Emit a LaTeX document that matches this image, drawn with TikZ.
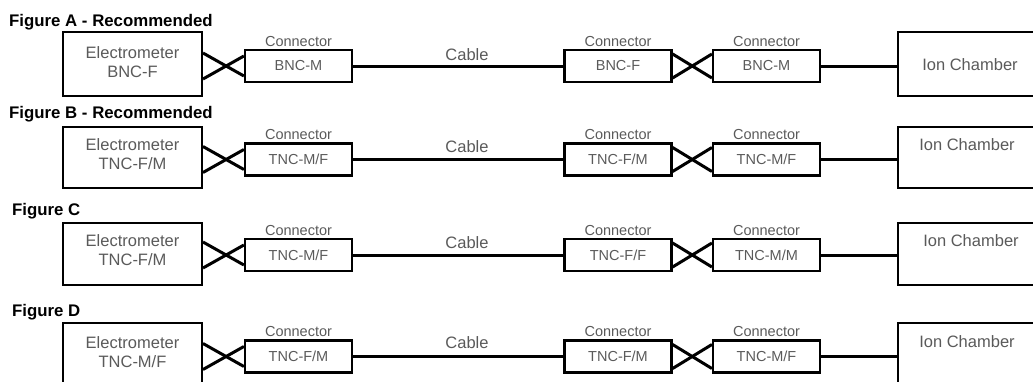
\documentclass[tikz,border=0pt]{standalone}
\usepackage{fontspec}
\setmainfont{Liberation Sans}
\usetikzlibrary{calc}
\definecolor{txt}{HTML}{5A5A5A}
\begin{document}
\begin{tikzpicture}[x=1pt,y=-1pt,
  title/.style={font=\fontsize{16.8}{19}\selectfont\bfseries, anchor=west, inner sep=0},
  ebox/.style={draw, line width=2pt, minimum width=139pt, inner sep=0},
  etext/.style={font=\fontsize{16.5}{19}\selectfont, text=txt, align=center, inner sep=0},
  cbox/.style={draw, line width=2.2pt, minimum width=107pt, minimum height=32pt, inner sep=0,
               font=\fontsize{14.5}{17}\selectfont, text=txt},
  clabel/.style={font=\fontsize{14.5}{17}\selectfont, text=txt, anchor=south, inner sep=0},
  ibox/.style={draw, line width=2pt, minimum width=148pt, inner sep=0},
  itext/.style={font=\fontsize{16.5}{19}\selectfont, text=txt, inner sep=0},
  cabtext/.style={font=\fontsize{16.5}{19}\selectfont, text=txt, inner sep=0},
  cable/.style={line width=3pt},
  xl/.style={line width=3pt}
]
\clip (0,0) rectangle (1033,381);

% ---------------- Row A ----------------
\node[title] (tA) at (9,22) {Figure A - Recommended};
\node[ebox, minimum height=64pt] (eA) at (132.5,64) {};
\node[etext] (eAt) at (132.5,62.5) {Electrometer\\BNC-F};
\node[cbox] (c1A) at (298.5,66) {BNC-M};
\node[cbox] (c2A) at (618,66) {BNC-F};
\node[cbox] (c3A) at (766.5,66) {BNC-M};
\node[clabel] (l1A) at ($(c1A.north)+(0,-2.5)$) {Connector};
\node[clabel] (l2A) at ($(c2A.north)+(0,-2.5)$) {Connector};
\node[clabel] (l3A) at ($(c3A.north)+(0,-2.5)$) {Connector};
\node[ibox, minimum height=64pt] (iA) at (972,64) {};
\node[itext] (iAt) at (970,65) {Ion Chamber};
\draw[cable] (c1A) -- (c2A);
\node[cabtext] (kA) at (467,55) {Cable};
\draw[cable] (c3A.east) -- (c3A.east -| iA.west);
\draw[xl] ($(eA.east |- c1A.center)+(0,-13)$) -- ($(c1A.west)+(0,10)$);
\draw[xl] ($(eA.east |- c1A.center)+(0,13)$) -- ($(c1A.west)+(0,-10)$);
\draw[xl] ($(c2A.east)+(0,-12)$) -- ($(c3A.west)+(0,12)$);
\draw[xl] ($(c2A.east)+(0,12)$) -- ($(c3A.west)+(0,-12)$);

% ---------------- Row B ----------------
\node[title] (tB) at (9,114) {Figure B - Recommended};
\node[ebox, minimum height=61pt] (eB) at (132.5,157.5) {};
\node[etext] (eBt) at (132.5,154) {Electrometer\\TNC-F/M};
\node[cbox] (c1B) at (298.5,159.5) {TNC-M/F};
\node[cbox] (c2B) at (618,159.5) {TNC-F/M};
\node[cbox] (c3B) at (766.5,159.5) {TNC-M/F};
\node[clabel] (l1B) at ($(c1B.north)+(0,-2.5)$) {Connector};
\node[clabel] (l2B) at ($(c2B.north)+(0,-2.5)$) {Connector};
\node[clabel] (l3B) at ($(c3B.north)+(0,-2.5)$) {Connector};
\node[ibox, minimum height=61pt] (iB) at (972,157.5) {};
\node[itext] (iBt) at (967,145) {Ion Chamber};
\draw[cable] (c1B) -- (c2B);
\node[cabtext] (kB) at (467,147) {Cable};
\draw[cable] (c3B.east) -- (c3B.east -| iB.west);
\draw[xl] ($(eB.east |- c1B.center)+(0,-13)$) -- ($(c1B.west)+(0,10)$);
\draw[xl] ($(eB.east |- c1B.center)+(0,13)$) -- ($(c1B.west)+(0,-10)$);
\draw[xl] ($(c2B.east)+(0,-12)$) -- ($(c3B.west)+(0,12)$);
\draw[xl] ($(c2B.east)+(0,12)$) -- ($(c3B.west)+(0,-12)$);

% ---------------- Row C ----------------
\node[title] (tC) at (12,211) {Figure C};
\node[ebox, minimum height=62pt] (eC) at (132.5,254) {};
\node[etext] (eCt) at (132.5,250) {Electrometer\\TNC-F/M};
\node[cbox] (c1C) at (298.5,255) {TNC-M/F};
\node[cbox] (c2C) at (618,255) {TNC-F/F};
\node[cbox] (c3C) at (766.5,255) {TNC-M/M};
\node[clabel] (l1C) at ($(c1C.north)+(0,-2.5)$) {Connector};
\node[clabel] (l2C) at ($(c2C.north)+(0,-2.5)$) {Connector};
\node[clabel] (l3C) at ($(c3C.north)+(0,-2.5)$) {Connector};
\node[ibox, minimum height=62pt] (iC) at (972,254) {};
\node[itext] (iCt) at (971,241) {Ion Chamber};
\draw[cable] (c1C) -- (c2C);
\node[cabtext] (kC) at (467,243) {Cable};
\draw[cable] (c3C.east) -- (c3C.east -| iC.west);
\draw[xl] ($(eC.east |- c1C.center)+(0,-13)$) -- ($(c1C.west)+(0,10)$);
\draw[xl] ($(eC.east |- c1C.center)+(0,13)$) -- ($(c1C.west)+(0,-10)$);
\draw[xl] ($(c2C.east)+(0,-12)$) -- ($(c3C.west)+(0,12)$);
\draw[xl] ($(c2C.east)+(0,12)$) -- ($(c3C.west)+(0,-12)$);

% ---------------- Row D ----------------
\node[title] (tD) at (12,312) {Figure D};
\node[ebox, minimum height=62pt] (eD) at (132.5,354) {};
\node[etext] (eDt) at (132.5,352.5) {Electrometer\\TNC-M/F};
\node[cbox] (c1D) at (298.5,356.5) {TNC-F/M};
\node[cbox] (c2D) at (618,356.5) {TNC-F/M};
\node[cbox] (c3D) at (766.5,356.5) {TNC-M/F};
\node[clabel] (l1D) at ($(c1D.north)+(0,-2.5)$) {Connector};
\node[clabel] (l2D) at ($(c2D.north)+(0,-2.5)$) {Connector};
\node[clabel] (l3D) at ($(c3D.north)+(0,-2.5)$) {Connector};
\node[ibox, minimum height=62pt] (iD) at (972,354) {};
\node[itext] (iDt) at (967,342) {Ion Chamber};
\draw[cable] (c1D) -- (c2D);
\node[cabtext] (kD) at (467,343) {Cable};
\draw[cable] (c3D.east) -- (c3D.east -| iD.west);
\draw[xl] ($(eD.east |- c1D.center)+(0,-13)$) -- ($(c1D.west)+(0,10)$);
\draw[xl] ($(eD.east |- c1D.center)+(0,13)$) -- ($(c1D.west)+(0,-10)$);
\draw[xl] ($(c2D.east)+(0,-12)$) -- ($(c3D.west)+(0,12)$);
\draw[xl] ($(c2D.east)+(0,12)$) -- ($(c3D.west)+(0,-12)$);
\end{tikzpicture}
\end{document}
